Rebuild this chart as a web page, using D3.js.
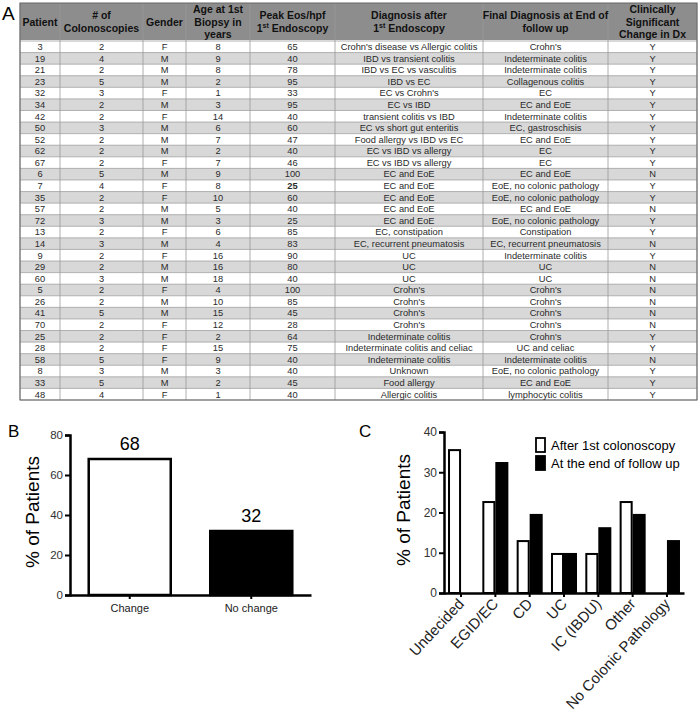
<!DOCTYPE html>
<html><head><meta charset="utf-8">
<script src="https://cdn.jsdelivr.net/npm/d3@7"></script>
<style>body{margin:0;background:#fff}svg{display:block}</style>
</head><body><svg id="c" width="700" height="722"></svg>
<script>
// ---------- DATA ----------
const patients = [3,19,21,23,32,34,42,50,52,62,67,6,7,35,57,72,13,14,9,29,60,5,26,41,70,25,28,58,8,33,48];
const colonoscopies = [2,4,2,5,3,2,2,3,2,2,2,5,4,2,2,3,2,3,2,2,3,2,2,5,2,2,2,5,3,5,4];
const gender = ["F","M","M","M","F","M","F","M","M","M","F","M","F","F","M","M","F","M","F","M","M","F","M","M","F","F","F","F","M","M","F"];
const ageFirst = [8,9,8,2,1,3,14,6,7,2,7,9,8,10,5,3,6,4,16,16,18,4,10,15,12,2,15,9,3,2,1];
const peakEos = [65,40,78,95,33,95,40,60,47,40,46,100,25,60,40,25,85,83,90,80,40,100,85,45,28,64,75,40,40,45,40];
const diagAfter = ["Crohn's disease vs Allergic colitis","IBD vs transient colitis","IBD vs EC vs vasculitis","IBD vs EC","EC vs Crohn's","EC vs IBD","transient colitis vs IBD","EC vs short gut enteritis","Food allergy vs IBD vs EC","EC vs IBD vs allergy","EC vs IBD vs allergy","EC and EoE","EC and EoE","EC and EoE","EC and EoE","EC and EoE","EC, constipation","EC, recurrent pneumatosis","UC","UC","UC","Crohn's","Crohn's","Crohn's","Crohn's","Indeterminate colitis","Indeterminate colitis and celiac","Indeterminate colitis","Unknown","Food allergy","Allergic colitis"];
const finalDiag = ["Crohn's","Indeterminate colitis","Indeterminate colitis","Collagenous colitis","EC","EC and EoE","Indeterminate colitis","EC, gastroschisis","EC and EoE","EC","EC","EC and EoE","EoE, no colonic pathology","EoE, no colonic pathology","EC and EoE","EoE, no colonic pathology","Constipation","EC, recurrent pneumatosis","Indeterminate colitis","UC","UC","Crohn's","Crohn's","Crohn's","Crohn's","Crohn's","UC and celiac","Indeterminate colitis","EoE, no colonic pathology","EC and EoE","lymphocytic colitis"];
const changeDx = ["Y","Y","Y","Y","Y","Y","Y","Y","Y","Y","Y","N","Y","Y","N","Y","Y","N","Y","N","N","N","N","N","N","Y","Y","N","Y","Y","Y"];
const boldPatient = 7; // peak Eos shown bold

const bCategories = ["Change","No change"];
const bValues = [68,32];
const bTicks = [0,20,40,60,80];

const cCategories = ["Undecided","EGID/EC","CD","UC","IC (IBDU)","Other","No Colonic Pathology"];
const cSeries = ["After 1st colonoscopy","At the end of follow up"];
const cAfterFirst = [35.5,22.6,12.9,9.7,9.7,22.6,0];
const cEndFollow = [0,32.3,19.4,9.7,16.1,19.4,12.9];
const cTicks = [0,10,20,30,40];

// ---------- DRAW ----------
const svg = d3.select("#c");
const FONT = "Liberation Sans, Arial, Helvetica, sans-serif";

svg.append("text").attr("x",2).attr("y",20).attr("font-family",FONT).attr("font-size",19).text("A");

// Table
const colEdges = [20,60,143,186,250,335,483,608,697];
const headTop = 3, headBot = 40, bodyBot = 400;
const nRows = patients.length;
const rowY = d3.scaleBand().domain(d3.range(nRows)).range([headBot+1, bodyBot]).paddingInner(0);
const tbl = svg.append("g").attr("font-family",FONT);
tbl.append("rect").attr("x",colEdges[0]).attr("y",headTop).attr("width",colEdges[8]-colEdges[0]).attr("height",headBot-headTop).attr("fill","#8d8d8d");
tbl.selectAll("rect.row").data(d3.range(nRows)).join("rect").attr("class","row")
  .attr("x",colEdges[0]).attr("y",i=>rowY(i)).attr("width",colEdges[8]-colEdges[0]).attr("height",rowY.bandwidth())
  .attr("fill",i=>i%2===0?"#ffffff":"#d8d8d8");
tbl.selectAll("line.h").data(d3.range(nRows+1)).join("line")
  .attr("x1",colEdges[0]).attr("x2",colEdges[8])
  .attr("y1",i=>i===nRows?bodyBot:rowY(i)).attr("y2",i=>i===nRows?bodyBot:rowY(i))
  .attr("stroke","#a0a0a0").attr("stroke-width",0.8);
tbl.selectAll("line.v").data(colEdges).join("line")
  .attr("x1",d=>d).attr("x2",d=>d).attr("y1",headTop).attr("y2",bodyBot)
  .attr("stroke","#9a9a9a").attr("stroke-width",0.8);
tbl.append("rect").attr("x",colEdges[0]).attr("y",headTop).attr("width",colEdges[8]-colEdges[0]).attr("height",bodyBot-headTop)
  .attr("fill","none").attr("stroke","#666").attr("stroke-width",1);

const headers = [
  [["Patient"]],
  [["# of"],["Colonoscopies"]],
  [["Gender"]],
  [["Age at 1st"],["Biopsy in"],["years"]],
  [["Peak Eos/hpf"],["1","st"," Endoscopy"]],
  [["Diagnosis after"],["1","st"," Endoscopy"]],
  [["Final Diagnosis at End of"],["follow up"]],
  [["Clinically"],["Significant"],["Change in Dx"]]
];
headers.forEach((lines,ci)=>{
  const cx = (colEdges[ci]+colEdges[ci+1])/2;
  const lh = 12.5, mid = (headTop+headBot)/2 + 4;
  lines.forEach((parts,li)=>{
    const y = mid + (li-(lines.length-1)/2)*lh;
    const t = tbl.append("text").attr("x",cx).attr("y",y).attr("text-anchor","middle")
      .attr("font-size",10.5).attr("font-weight","bold").attr("fill","#111");
    if(parts.length===1){ t.text(parts[0]); }
    else {
      t.append("tspan").text(parts[0]);
      t.append("tspan").attr("font-size",7).attr("dy",-3.5).text(parts[1]);
      t.append("tspan").attr("dy",3.5).text(parts[2]);
    }
  });
});

const cols = [patients,colonoscopies,gender,ageFirst,peakEos,diagAfter,finalDiag,changeDx];
cols.forEach((arr,ci)=>{
  const cx = (colEdges[ci]+colEdges[ci+1])/2;
  tbl.selectAll(null).data(arr).join("text")
    .attr("x",cx).attr("y",(d,i)=>rowY(i)+rowY.bandwidth()/2+3.3)
    .attr("text-anchor","middle").attr("font-size",9.3).attr("fill","#2a2a2a")
    .attr("font-weight",(d,i)=>(ci===4 && patients[i]===boldPatient)?"bold":"normal")
    .text(d=>d);
});

// ---------- Panel B ----------
svg.append("text").attr("x",8).attr("y",437).attr("font-family",FONT).attr("font-size",17).text("B");
const gB = svg.append("g").attr("font-family",FONT);
const bx = d3.scaleBand().domain(bCategories).range([70,311]).paddingInner(0.325).paddingOuter(0.154);
const by = d3.scaleLinear().domain([0,80]).range([595,435]);
gB.selectAll("rect.bar").data(bValues).join("rect")
  .attr("x",(d,i)=>bx(bCategories[i])).attr("width",bx.bandwidth())
  .attr("y",d=>by(d)).attr("height",d=>by(0)-by(d))
  .attr("fill",(d,i)=>i===0?"#fff":"#000").attr("stroke","#000").attr("stroke-width",2.5);
gB.selectAll("text.val").data(bValues).join("text")
  .attr("x",(d,i)=>bx(bCategories[i])+bx.bandwidth()/2).attr("y",d=>by(d)-9)
  .attr("text-anchor","middle").attr("font-size",18).text(d=>d);
const yAxB = gB.append("g").attr("transform","translate(70,0)")
  .call(d3.axisLeft(by).tickValues(bTicks).tickSize(5).tickPadding(2));
yAxB.select(".domain").attr("stroke-width",2.5);
yAxB.selectAll(".tick line").attr("stroke-width",2);
yAxB.selectAll(".tick text").attr("font-size",11.5).attr("font-family",FONT).attr("fill","#333");
const xAxB = gB.append("g").attr("transform","translate(0,595)")
  .call(d3.axisBottom(bx).tickSize(4).tickPadding(5).tickSizeOuter(0));
xAxB.select(".domain").attr("stroke-width",2.5);
xAxB.selectAll(".tick line").attr("stroke-width",2);
xAxB.selectAll(".tick text").attr("font-size",11).attr("font-family",FONT).attr("fill","#222");
gB.append("text").attr("transform","translate(39,512) rotate(-90)").attr("text-anchor","middle")
  .attr("font-size",19).text("% of Patients");

// ---------- Panel C ----------
svg.append("text").attr("x",359).attr("y",437).attr("font-family",FONT).attr("font-size",17).text("C");
const gC = svg.append("g").attr("font-family",FONT);
const cx0 = d3.scaleBand().domain(cCategories).range([444,684]).paddingInner(0.3).paddingOuter(0.146);
const cx1 = d3.scaleBand().domain(cSeries).range([0,cx0.bandwidth()]).paddingInner(0.15);
const cy = d3.scaleLinear().domain([0,40]).range([593,432]);
const cData = [];
cCategories.forEach((c,i)=>{
  cData.push({cat:c,ser:cSeries[0],v:cAfterFirst[i]});
  cData.push({cat:c,ser:cSeries[1],v:cEndFollow[i]});
});
gC.selectAll("rect.bar").data(cData.filter(d=>d.v>0)).join("rect")
  .attr("x",d=>cx0(d.cat)+cx1(d.ser)).attr("width",cx1.bandwidth())
  .attr("y",d=>cy(d.v)).attr("height",d=>cy(0)-cy(d.v))
  .attr("fill",d=>d.ser===cSeries[0]?"#fff":"#000").attr("stroke","#000").attr("stroke-width",2);
const yAxC = gC.append("g").attr("transform","translate(444,0)")
  .call(d3.axisLeft(cy).tickValues(cTicks).tickSize(5).tickPadding(2));
yAxC.select(".domain").attr("stroke-width",2.5);
yAxC.selectAll(".tick line").attr("stroke-width",2);
yAxC.selectAll(".tick text").attr("font-size",12).attr("font-family",FONT).attr("fill","#333");
const xAxC = gC.append("g").attr("transform","translate(0,593)")
  .call(d3.axisBottom(cx0).tickSize(4).tickPadding(4).tickSizeOuter(0));
xAxC.select(".domain").attr("stroke-width",2.5);
xAxC.selectAll(".tick line").attr("stroke-width",2);
xAxC.selectAll(".tick text").attr("font-size",15).attr("font-family",FONT).attr("fill","#222")
  .attr("text-anchor","end").attr("dy","0.35em").attr("transform","translate(0,8) rotate(-47)").attr("y",0).attr("x",0);
gC.append("text").attr("transform","translate(410,510) rotate(-90)").attr("text-anchor","middle")
  .attr("font-size",19).text("% of Patients");
const leg = gC.selectAll("g.leg").data(cSeries).join("g").attr("transform",(d,i)=>`translate(536,${438+i*18})`);
leg.append("rect").attr("width",9).attr("height",14).attr("fill",(d,i)=>i===0?"#fff":"#000").attr("stroke","#000").attr("stroke-width",1.8);
leg.append("text").attr("x",15).attr("y",11.5).attr("font-size",13).text(d=>d);
</script></body></html>
